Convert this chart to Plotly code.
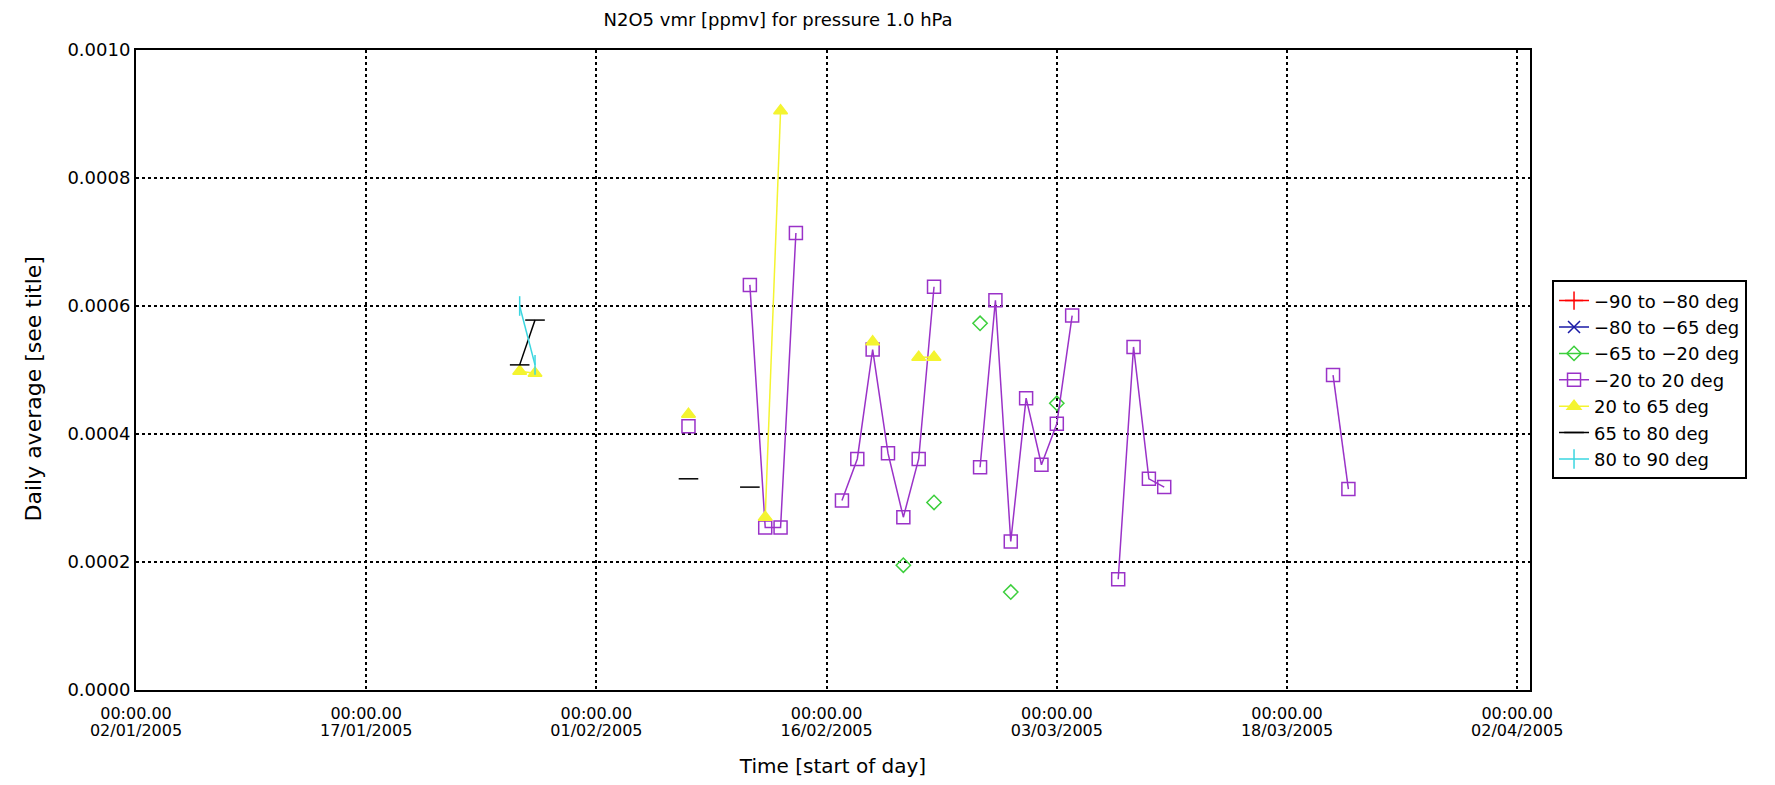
import pandas as pd
import plotly.graph_objects as go

# ---- data (daily averages, N2O5 vmr [ppmv] at 1.0 hPa) ----
red_dates = []
red_vals = []

blue_dates = []
blue_vals = []

green_dates = ["2005-02-21", "2005-02-23", "2005-02-26", "2005-02-28", "2005-03-03"]
green_vals = [0.000195, 0.000293, 0.000573, 0.000153, 0.000448]

purple_dates = ["2005-02-07",
                "2005-02-11", "2005-02-12", "2005-02-13", "2005-02-14",
                "2005-02-17", "2005-02-18", "2005-02-19", "2005-02-20", "2005-02-21",
                "2005-02-22", "2005-02-23",
                "2005-02-26", "2005-02-27", "2005-02-28", "2005-03-01", "2005-03-02",
                "2005-03-03", "2005-03-04",
                "2005-03-07", "2005-03-08", "2005-03-09", "2005-03-10",
                "2005-03-21", "2005-03-22"]
purple_vals = [0.000412,
               0.000633, 0.000254, 0.000254, 0.000714,
               0.000296, 0.000361, 0.000532, 0.000370, 0.000270,
               0.000361, 0.000630,
               0.000348, 0.000609, 0.000232, 0.000456, 0.000352,
               0.000416, 0.000585,
               0.000173, 0.000536, 0.000330, 0.000317,
               0.000492, 0.000314]

yellow_dates = ["2005-01-27", "2005-01-28", "2005-02-07", "2005-02-12", "2005-02-13",
                "2005-02-19", "2005-02-22", "2005-02-23"]
yellow_vals = [0.000498, 0.000495, 0.000431, 0.000270, 0.000905,
               0.000544, 0.000520, 0.000520]

black_dates = ["2005-01-27", "2005-01-28", "2005-02-07", "2005-02-11"]
black_vals = [0.000508, 0.000578, 0.000330, 0.000317]

cyan_dates = ["2005-01-27", "2005-01-28"]
cyan_vals = [0.000600, 0.000508]

series_names = ["\u221290 to \u221280 deg", "\u221280 to \u221265 deg",
                "\u221265 to \u221220 deg", "\u221220 to 20 deg",
                "20 to 65 deg", "65 to 80 deg", "80 to 90 deg"]

tick_dates = ["2005-01-02", "2005-01-17", "2005-02-01", "2005-02-16",
              "2005-03-03", "2005-03-18", "2005-04-02"]
tick_times = ["00:00.00"] * 7
tick_days = ["02/01/2005", "17/01/2005", "01/02/2005", "16/02/2005",
             "03/03/2005", "18/03/2005", "02/04/2005"]
y_ticks = [0.0, 0.0002, 0.0004, 0.0006, 0.0008, 0.0010]


def daily(dates, vals):
    """Reindex onto consecutive days so missing days break the line."""
    if not dates:
        return [None], [None]
    s = pd.Series(vals, index=pd.to_datetime(dates))
    full = pd.date_range(s.index.min(), s.index.max(), freq="D")
    s = s.reindex(full)
    return list(s.index), [None if pd.isna(v) else v for v in s.values]


styles = [
    dict(color="#ff0000", symbol="cross-thin-open", size=13),
    dict(color="#1a1aa6", symbol="x-thin-open", size=12),
    dict(color="#3ccf3c", symbol="diamond-open", size=11),
    dict(color="#9a32c8", symbol="square-open", size=13),
    dict(color="#f4f430", symbol="triangle-up", size=12),
    dict(color="#000000", symbol="line-ew-open", size=14),
    dict(color="#3ad6e0", symbol="line-ns-open", size=14),
]
all_data = [(red_dates, red_vals), (blue_dates, blue_vals), (green_dates, green_vals),
            (purple_dates, purple_vals), (yellow_dates, yellow_vals),
            (black_dates, black_vals), (cyan_dates, cyan_vals)]

FONT = "DejaVu Sans"
X_RANGE = ["2005-01-02", "2005-04-02 20:00"]

fig = go.Figure()
for name, (d, v), st in zip(series_names, all_data, styles):
    x, y = daily(d, v)
    fig.add_trace(go.Scatter(
        x=x, y=y, name=name, mode="lines+markers",
        line=dict(color=st["color"], width=1.5),
        marker=dict(symbol=st["symbol"], size=st["size"], color=st["color"],
                    line=dict(color=st["color"], width=1.5)),
        connectgaps=False,
    ))

# empty helper trace so the second (date-row) tick axis is drawn
fig.add_trace(go.Scatter(x=[], y=[], xaxis="x2", yaxis="y", showlegend=False,
                         hoverinfo="skip", mode="markers"))

# page has an 8px body margin; figure is sized to fit the window
fig.update_layout(
    width=1767, height=777,
    margin=dict(l=128, r=245, t=42, b=95),
    paper_bgcolor="white", plot_bgcolor="white",
    font=dict(family=FONT, size=16, color="black"),
    title=dict(text="N2O5 vmr [ppmv] for pressure 1.0 hPa", x=0.4358, xanchor="center",
               xref="container", y=0.9846, yref="container", yanchor="middle",
               font=dict(family=FONT, size=18)),
    showlegend=True,
    legend=dict(x=1.0158, y=0.64, xanchor="left", yanchor="top",
                bordercolor="black", borderwidth=2, bgcolor="white",
                font=dict(family=FONT, size=18), traceorder="normal"),
    xaxis=dict(
        type="date", range=X_RANGE,
        tickvals=tick_dates, ticktext=tick_times, tickangle=0,
        showgrid=True, gridcolor="black", griddash="dot", gridwidth=1.5,
        showline=True, linecolor="black", linewidth=2, mirror=True,
        ticks="", zeroline=False, tickfont=dict(family=FONT, size=16),
        ticklabelstandoff=8,
    ),
    xaxis2=dict(
        type="date", range=X_RANGE, overlaying="x", anchor="y", side="bottom",
        tickvals=tick_dates, ticktext=tick_days, tickangle=0,
        showgrid=False, showline=False, zeroline=False, ticks="",
        tickfont=dict(family=FONT, size=16), ticklabelstandoff=29,
        title=dict(text="Time [start of day]", font=dict(family=FONT, size=20), standoff=19),
    ),
    yaxis=dict(
        range=[0, 0.0010], tickvals=y_ticks, tickformat=".4f",
        showgrid=True, gridcolor="black", griddash="dot", gridwidth=1.5,
        showline=True, linecolor="black", linewidth=2, mirror=True,
        ticks="", zeroline=False, tickfont=dict(family=FONT, size=18),
    ),
    annotations=[dict(
        text="Daily average [see title]", textangle=-90, showarrow=False,
        xref="paper", yref="paper", x=-0.0732, y=0.471,
        xanchor="center", yanchor="middle", font=dict(family=FONT, size=22),
    )],
)

fig.write_html("out.html")
